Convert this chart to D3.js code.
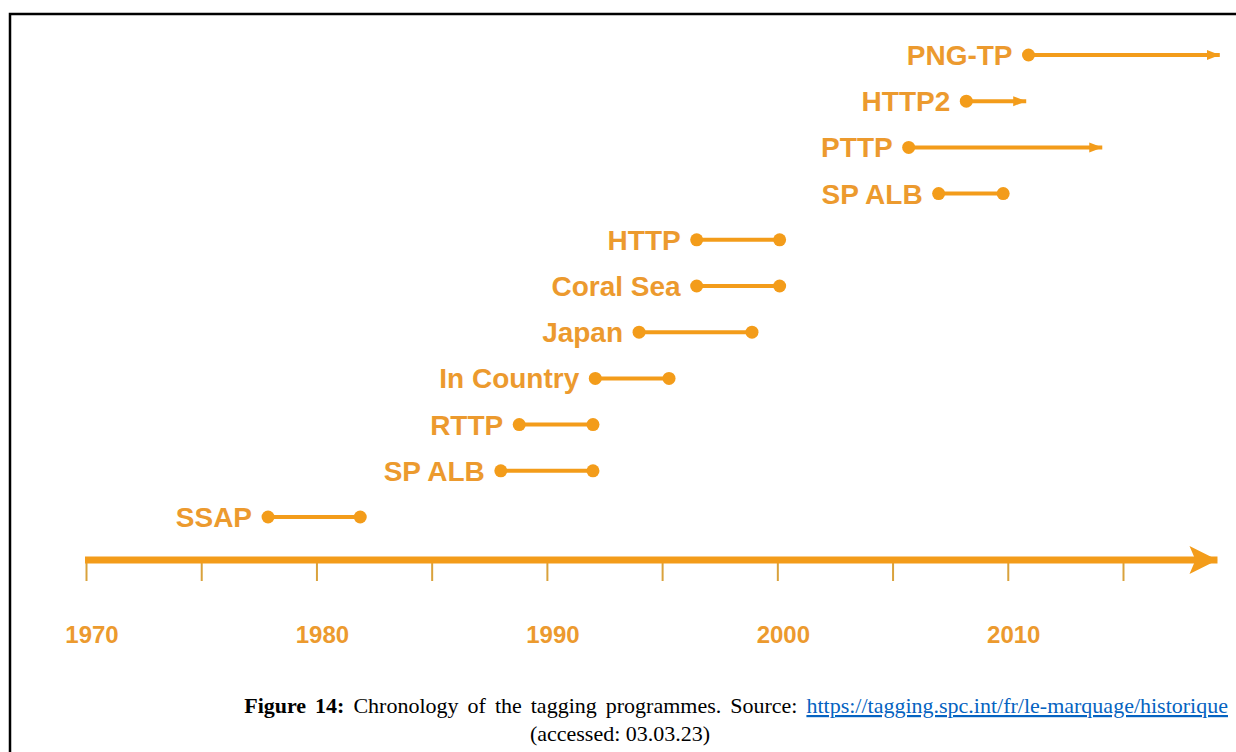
<!DOCTYPE html>
<html>
<head>
<meta charset="utf-8">
<script src="https://cdn.jsdelivr.net/npm/d3@7"></script>
<style>
  body { margin: 0; background: #fff; }
  svg { display: block; }
  .prog-label { font-family: "Liberation Sans", Arial, sans-serif; font-weight: bold; }
  .caption { font-family: "Liberation Serif", "Times New Roman", serif; }
</style>
</head>
<body>
<svg id="chart" width="1236" height="752"></svg>
<script>
// programmes, top row first
var programmes = ["PNG-TP", "HTTP2", "PTTP", "SP ALB", "HTTP", "Coral Sea", "Japan", "In Country", "RTTP", "SP ALB", "SSAP"];
var startYears = [2010.9, 2008.2, 2005.7, 2007.0, 1996.5, 1996.5, 1994.0, 1992.1, 1988.8, 1988.0, 1977.9];
var endYears   = [2019.2, 2010.8, 2014.1, 2009.8, 2000.1, 2000.1, 1998.9, 1995.3, 1992.0, 1992.0, 1981.9];
var ongoing    = [true, true, true, false, false, false, false, false, false, false, false];

// axis
var tickYears  = [1970, 1975, 1980, 1985, 1990, 1995, 2000, 2005, 2010, 2015];
var labelYears = [1970, 1980, 1990, 2000, 2010];
var tickLabels = ["1970", "1980", "1990", "2000", "2010"];
var axisEnd = 2019.1;

var orange = "#f39c1a";
var textOrange = "#ec9a2e";

var svg = d3.select("#chart");

// page frame
svg.append("rect")
    .attr("x", 10).attr("y", 14)
    .attr("width", 1250).attr("height", 760)
    .attr("fill", "none")
    .attr("stroke", "#000")
    .attr("stroke-width", 2.5);

var x = d3.scaleLinear()
    .domain([1970, 2015])
    .range([86, 1123]);

var y = d3.scalePoint()
    .domain(d3.range(programmes.length))
    .range([55, 517]);

var axisY = 560;

var defs = svg.append("defs");
defs.append("marker")
    .attr("id", "small-arrow")
    .attr("markerUnits", "userSpaceOnUse")
    .attr("markerWidth", 14).attr("markerHeight", 12)
    .attr("refX", 13).attr("refY", 6)
    .attr("orient", "auto")
  .append("path")
    .attr("d", "M0,1 L13,6 L0,11 Z")
    .attr("fill", orange);

defs.append("marker")
    .attr("id", "big-arrow")
    .attr("markerUnits", "userSpaceOnUse")
    .attr("markerWidth", 30).attr("markerHeight", 30)
    .attr("refX", 28).attr("refY", 15)
    .attr("orient", "auto")
  .append("path")
    .attr("d", "M0,1 L28,15 L0,29 L6,15 Z")
    .attr("fill", orange);

// tick marks
var axis = d3.axisBottom(x)
    .tickValues(tickYears)
    .tickSize(21)
    .tickFormat("");

var gAxis = svg.append("g")
    .attr("transform", "translate(0," + axisY + ")")
    .call(axis);
gAxis.select(".domain").remove();
gAxis.selectAll(".tick line")
    .attr("stroke", "#d9a23c")
    .attr("stroke-width", 2);

// main time line
svg.append("line")
    .attr("x1", x(1970) - 1)
    .attr("x2", x(axisEnd))
    .attr("y1", axisY).attr("y2", axisY)
    .attr("stroke", orange)
    .attr("stroke-width", 7)
    .attr("marker-end", "url(#big-arrow)");

// decade labels
svg.append("g").selectAll("text")
    .data(labelYears)
    .enter().append("text")
      .attr("class", "prog-label")
      .attr("x", function(d) { return x(d) + 6; })
      .attr("y", 643)
      .attr("text-anchor", "middle")
      .attr("font-size", 24)
      .attr("fill", textOrange)
      .text(function(d, i) { return tickLabels[i]; });

// programme rows
var rows = svg.append("g").selectAll("g")
    .data(programmes)
    .enter().append("g");

rows.append("line")
    .attr("x1", function(d, i) { return x(startYears[i]); })
    .attr("x2", function(d, i) { return x(endYears[i]); })
    .attr("y1", function(d, i) { return y(i); })
    .attr("y2", function(d, i) { return y(i); })
    .attr("stroke", orange)
    .attr("stroke-width", 4)
    .attr("marker-end", function(d, i) { return ongoing[i] ? "url(#small-arrow)" : null; });

rows.append("circle")
    .attr("cx", function(d, i) { return x(startYears[i]); })
    .attr("cy", function(d, i) { return y(i); })
    .attr("r", 6.5)
    .attr("fill", orange);

rows.each(function(d, i) {
  if (!ongoing[i]) {
    d3.select(this).append("circle")
      .attr("cx", x(endYears[i]))
      .attr("cy", y(i))
      .attr("r", 6.5)
      .attr("fill", orange);
  }
});

rows.append("text")
    .attr("class", "prog-label")
    .attr("x", function(d, i) { return x(startYears[i]) - 16; })
    .attr("y", function(d, i) { return y(i) + 10; })
    .attr("text-anchor", "end")
    .attr("font-size", 28)
    .attr("fill", textOrange)
    .text(function(d) { return d; });

// caption
var cap = svg.append("text")
    .attr("class", "caption")
    .attr("x", 1228)
    .attr("y", 713)
    .attr("text-anchor", "end")
    .attr("font-size", 22)
    .attr("word-spacing", 3.5)
    .attr("fill", "#000");
cap.append("tspan").attr("font-weight", "bold").text("Figure 14:");
cap.append("tspan").text(" Chronology of the tagging programmes. Source: ");
cap.append("tspan")
    .attr("fill", "#0563c1")
    .attr("text-decoration", "underline")
    .text("https://tagging.spc.int/fr/le-marquage/historique");

svg.append("text")
    .attr("class", "caption")
    .attr("x", 620)
    .attr("y", 741)
    .attr("text-anchor", "middle")
    .attr("font-size", 22)
    .attr("fill", "#000")
    .text("(accessed: 03.03.23)");
</script>
</body>
</html>
